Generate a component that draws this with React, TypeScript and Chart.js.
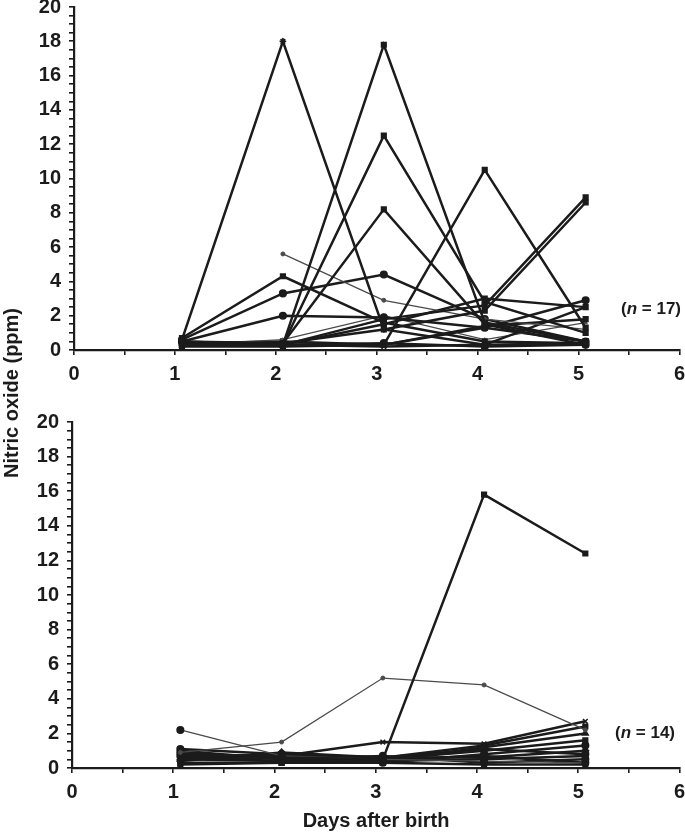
import React, { useEffect, useRef } from 'react';
import { Chart, registerables } from 'chart.js';

Chart.register(...registerables);

// Measurement days (points sit slightly right of the integer ticks in the figure)
const dayPositions = [1.07, 2.07, 3.07, 4.07, 5.07];

// Top panel (n = 17): nitric oxide (ppm) on days 1..5
const topS1 = [0.6, 18.0, 1.2, 0.3, 0.4];
const topS2 = [0.3, 0.3, 17.8, 1.6, 0.5];
const topS3 = [0.4, 0.3, 12.5, 2.8, 1.0];
const topS4 = [0.5, 0.4, 8.2, 1.5, 0.3];
const topS5 = [0.3, 0.3, 0.3, 10.5, 1.3];
const topS6 = [0.4, 0.3, 1.8, 2.6, 8.9];
const topS7 = [0.3, 0.4, 1.2, 2.3, 8.6];
const topS8 = [null, 5.6, 2.9, 1.8, 1.2];
const topS9 = [0.7, 4.3, 1.6, 0.5, 0.4];
const topS10 = [0.6, 3.3, 4.4, 1.8, 0.5];
const topS11 = [0.5, 2.0, 1.9, 1.3, 2.9];
const topS12 = [0.4, 0.3, 1.5, 3.0, 2.5];
const topS13 = [0.3, 0.3, 0.2, 0.3, 2.5];
const topS14 = [0.2, 0.2, 0.3, 1.4, 1.8];
const topS15 = [0.5, 0.3, 0.4, 0.2, 0.3];
const topS16 = [0.3, 0.6, 2.0, 0.6, 1.6];
const topS17 = [0.4, 0.5, 0.3, 1.3, 0.5];

// Bottom panel (n = 14)
const botS1 = [0.5, 0.6, 0.5, 15.8, 12.4];
const botS2 = [0.9, 1.5, 5.2, 4.8, 2.2];
const botS3 = [2.2, 0.7, 0.5, 0.4, 0.3];
const botS4 = [0.8, 0.7, 1.5, 1.4, 2.7];
const botS5 = [1.0, 0.5, 0.6, 1.3, 2.4];
const botS6 = [0.6, 0.8, 0.4, 1.2, 2.0];
const botS7 = [0.5, 0.4, 0.5, 1.0, 1.6];
const botS8 = [0.7, 0.6, 0.3, 0.8, 1.3];
const botS9 = [0.4, 0.9, 0.6, 0.6, 1.0];
const botS10 = [0.3, 0.3, 0.4, 0.5, 0.7];
const botS11 = [0.9, 0.5, 0.7, 0.3, 0.5];
const botS12 = [0.6, 0.4, 0.5, 0.7, 0.3];
const botS13 = [0.2, 0.3, 0.3, 0.2, 0.2];
const botS14 = [1.1, 0.8, 0.6, 1.1, 0.8];

const topSeries = [topS1, topS2, topS3, topS4, topS5, topS6, topS7, topS8, topS9, topS10, topS11, topS12, topS13, topS14, topS15, topS16, topS17];
const botSeries = [botS1, botS2, botS3, botS4, botS5, botS6, botS7, botS8, botS9, botS10, botS11, botS12, botS13, botS14];

// Axis settings
const xMin = 0, xMax = 6, xStep = 0.5;
const yMin = 0, yMax = 20, yStep = 0.5, yLabelEvery = 2;

const yTitle = 'Nitric oxide (ppm)';
const xTitle = 'Days after birth';
const topNote = '17';
const botNote = '14';

// styles (kept apart from data)
const topMarkers = ['star', 'rect', 'rect', 'rect', 'rect', 'rect', 'rect', 'circle', 'rect', 'circle', 'circle', 'rect', 'crossRot', 'rect', 'circle', 'triangle', 'rect'];
const botMarkers = ['rect', 'circle', 'circle', 'crossRot', 'rect', 'triangle', 'rect', 'circle', 'rectRot', 'rect', 'circle', 'rect', 'rect', 'circle'];
const topThin = new Set([7, 15]);
const botThin = new Set([1, 2]);
const topSmallMarks = new Set([7, 15]);
const botSmallMarks = new Set([1]);

const FONT = '"Liberation Sans", Arial, Helvetica, sans-serif';
const INK = '#1b1b1b';

function buildDatasets(series: (number | null)[][], thin: Set<number>, small: Set<number>, markers: string[]) {
  return series.map((vals, i) => ({
    data: vals.map((v, j) => ({ x: dayPositions[j], y: v })),
    borderColor: thin.has(i) ? '#4a4a4a' : INK,
    backgroundColor: small.has(i) ? '#4a4a4a' : INK,
    pointBorderColor: small.has(i) ? '#4a4a4a' : INK,
    borderWidth: thin.has(i) ? 1.3 : 2.5,
    pointRadius: small.has(i) ? 2 : 3.3,
    pointStyle: markers[i % markers.length] as any,
    pointBorderWidth: small.has(i) ? 1 : 1.5,
    tension: 0,
    spanGaps: false,
  }));
}

function makeConfig(series: (number | null)[][], thin: Set<number>, small: Set<number>, markers: string[], padTop: number, xAxisHeight: number, yAxisWidth: number) {
  return {
    type: 'line' as const,
    data: { datasets: buildDatasets(series, thin, small, markers) },
    options: {
      animation: false as const,
      responsive: false,
      devicePixelRatio: 1,
      layout: { padding: { top: padTop, right: 5, left: 0, bottom: 0 } },
      plugins: { legend: { display: false }, tooltip: { enabled: false } },
      scales: {
        x: {
          type: 'linear' as const,
          min: xMin,
          max: xMax,
          ticks: {
            stepSize: xStep,
            autoSkip: false,
            maxRotation: 0,
            padding: 7,
            color: INK,
            font: { family: FONT, size: 20, weight: 'bold' as const },
            callback: (v: any) => (Number.isInteger(v) ? String(v) : ''),
          },
          grid: { drawOnChartArea: false, drawTicks: true, tickLength: 5, color: INK, lineWidth: 1.6 },
          border: { display: true, color: INK, width: 2.2 },
          afterFit: (s: any) => {
            s.height = xAxisHeight;
            s.paddingLeft = 0;
            s.paddingRight = 0;
          },
        },
        y: {
          type: 'linear' as const,
          min: yMin,
          max: yMax,
          ticks: {
            stepSize: yStep,
            autoSkip: false,
            padding: 8,
            color: INK,
            font: { family: FONT, size: 20, weight: 'bold' as const },
            callback: (v: any) => (Math.abs(v % yLabelEvery) < 1e-9 ? String(v) : ''),
          },
          grid: { drawOnChartArea: false, drawTicks: true, tickLength: 5, color: INK, lineWidth: 1.6 },
          border: { display: true, color: INK, width: 2.2 },
          afterFit: (s: any) => {
            s.width = yAxisWidth;
            s.paddingTop = 0;
            s.paddingBottom = 0;
          },
        },
      },
    },
  };
}

export default function App() {
  const topRef = useRef<HTMLCanvasElement | null>(null);
  const botRef = useRef<HTMLCanvasElement | null>(null);

  useEffect(() => {
    const c1 = new Chart(topRef.current as HTMLCanvasElement, makeConfig(topSeries, topThin, topSmallMarks, topMarkers, 7, 40, 74) as any);
    const c2 = new Chart(botRef.current as HTMLCanvasElement, makeConfig(botSeries, botThin, botSmallMarks, botMarkers, 12, 66, 72) as any);
    return () => {
      c1.destroy();
      c2.destroy();
    };
  }, []);

  const noteStyle: React.CSSProperties = {
    position: 'absolute',
    fontFamily: FONT,
    fontWeight: 'bold',
    fontSize: 17,
    color: INK,
    whiteSpace: 'nowrap',
    lineHeight: '18px',
  };

  return (
    <div style={{ position: 'absolute', left: 0, top: 0, width: 685, height: 834, background: '#fff', overflow: 'hidden' }}>
      <canvas ref={topRef} width={685} height={390} style={{ position: 'absolute', left: 0, top: 0, width: 685, height: 390 }} />
      <canvas ref={botRef} width={685} height={424} style={{ position: 'absolute', left: 0, top: 410, width: 685, height: 424 }} />
      <div
        style={{
          position: 'absolute',
          left: 11,
          top: 393,
          transform: 'translate(-50%, -50%) rotate(-90deg)',
          fontFamily: FONT,
          fontWeight: 'bold',
          fontSize: 20,
          color: INK,
          whiteSpace: 'nowrap',
          lineHeight: '22px',
        }}
      >
        {yTitle}
      </div>
      <div
        style={{
          position: 'absolute',
          left: 376,
          top: 820,
          transform: 'translate(-50%, -50%)',
          fontFamily: FONT,
          fontWeight: 'bold',
          fontSize: 20,
          color: INK,
          whiteSpace: 'nowrap',
          lineHeight: '22px',
        }}
      >
        {xTitle}
      </div>
      <div style={{ ...noteStyle, left: 621, top: 300 }}>
        (<i>n</i> = {topNote})
      </div>
      <div style={{ ...noteStyle, left: 615, top: 724 }}>
        (<i>n</i> = {botNote})
      </div>
    </div>
  );
}
